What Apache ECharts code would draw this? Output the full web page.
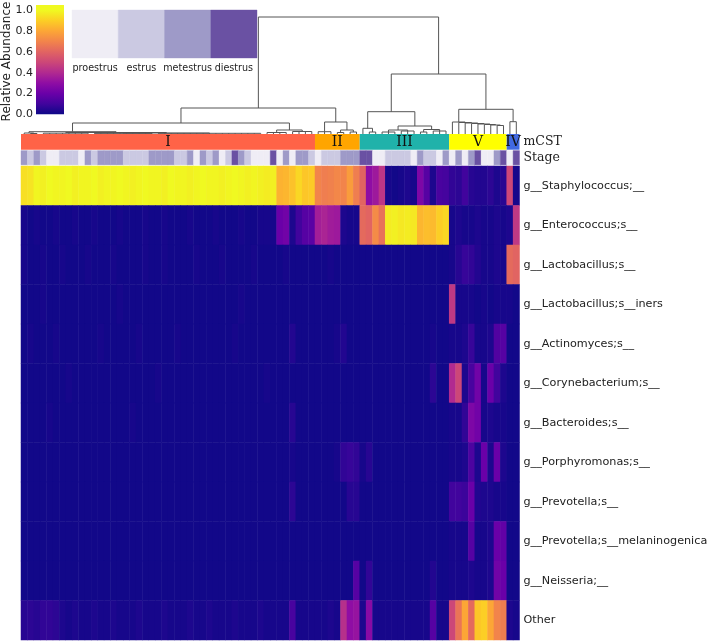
<!DOCTYPE html>
<html><head><meta charset="utf-8">
<script src="https://cdn.jsdelivr.net/npm/echarts@6/dist/echarts.min.js"></script>
<style>html,body{margin:0;padding:0;background:#fff}#c{width:709px;height:642px}</style>
</head><body><div id="c"></div>
<script>
// ---------- DATA ----------
const taxa = ['g__Staphylococcus;__','g__Enterococcus;s__','g__Lactobacillus;s__','g__Lactobacillus;s__iners','g__Actinomyces;s__','g__Corynebacterium;s__','g__Bacteroides;s__','g__Porphyromonas;s__','g__Prevotella;s__','g__Prevotella;s__melaninogenica','g__Neisseria;__','Other'];

const staphylococcus = [
0.94,0.95,0.99,0.98,1.0,0.99,0.99,1.0,0.98,0.99,
0.99,1.0,0.98,0.99,0.99,1.0,0.99,0.98,0.99,1.0,
0.99,0.99,0.98,1.0,0.99,0.99,0.98,0.99,1.0,0.99,
0.99,0.98,0.99,1.0,0.99,0.98,0.99,0.98,0.97,0.98,
0.83,0.84,0.87,0.92,0.88,0.89,0.7,0.68,0.69,0.71,
0.7,0.77,0.68,0.6,0.3,0.34,0.44,0.02,0.01,0.02,
0.03,0.02,0.25,0.15,0.03,0.12,0.11,0.07,0.06,0.1,
0.05,0.04,0.04,0.06,0.03,0.05,0.5,0.02];
const enterococcus = [
0.02,0.01,0.02,0.01,0.01,0.02,0.01,0.01,0.02,0.01,
0.01,0.02,0.01,0.01,0.01,0.02,0.01,0.01,0.01,0.02,
0.01,0.01,0.02,0.01,0.01,0.01,0.02,0.01,0.01,0.01,
0.02,0.01,0.01,0.01,0.02,0.01,0.01,0.02,0.02,0.02,
0.2,0.22,0.03,0.1,0.15,0.16,0.36,0.38,0.35,0.34,
0.03,0.02,0.02,0.62,0.6,0.72,0.64,0.97,0.98,0.96,
0.97,0.96,0.84,0.86,0.85,0.9,0.92,0.02,0.03,0.02,
0.02,0.03,0.02,0.02,0.03,0.02,0.03,0.45];
const lactobacillus = [
0.02,0.01,0.01,0.02,0.01,0.01,0.02,0.01,0.01,0.01,
0.02,0.01,0.01,0.01,0.02,0.01,0.01,0.01,0.01,0.02,
0.01,0.01,0.02,0.01,0.01,0.01,0.01,0.02,0.01,0.01,
0.01,0.02,0.01,0.01,0.01,0.01,0.02,0.01,0.01,0.01,
0.01,0.02,0.01,0.01,0.01,0.01,0.01,0.01,0.02,0.01,
0.01,0.01,0.01,0.01,0.01,0.01,0.01,0.01,0.01,0.01,
0.01,0.01,0.01,0.01,0.01,0.01,0.01,0.02,0.05,0.08,
0.07,0.04,0.02,0.02,0.03,0.02,0.62,0.6];
const lactobacillusIners = [
0.01,0.01,0.01,0.02,0.01,0.01,0.01,0.01,0.01,0.01,
0.01,0.01,0.01,0.01,0.01,0.02,0.01,0.01,0.01,0.01,
0.01,0.01,0.01,0.01,0.01,0.01,0.01,0.01,0.01,0.01,
0.01,0.01,0.01,0.01,0.02,0.01,0.01,0.01,0.01,0.01,
0.01,0.01,0.01,0.01,0.01,0.01,0.01,0.01,0.01,0.01,
0.01,0.01,0.01,0.01,0.01,0.01,0.01,0.01,0.01,0.01,
0.01,0.01,0.01,0.01,0.01,0.01,0.01,0.45,0.02,0.02,
0.02,0.01,0.02,0.01,0.02,0.02,0.02,0.01];
const actinomyces = [
0.01,0.02,0.01,0.01,0.01,0.02,0.01,0.01,0.01,0.01,
0.01,0.01,0.02,0.01,0.01,0.01,0.01,0.01,0.02,0.01,
0.01,0.01,0.01,0.01,0.02,0.01,0.01,0.01,0.01,0.01,
0.01,0.01,0.01,0.02,0.01,0.01,0.01,0.01,0.01,0.01,
0.01,0.01,0.04,0.01,0.01,0.01,0.01,0.01,0.01,0.02,
0.04,0.01,0.01,0.01,0.01,0.01,0.01,0.01,0.01,0.01,
0.01,0.01,0.01,0.01,0.02,0.01,0.01,0.02,0.02,0.03,
0.08,0.02,0.02,0.03,0.14,0.15,0.01,0.01];
const corynebacterium = [
0.01,0.01,0.01,0.01,0.01,0.01,0.01,0.02,0.01,0.01,
0.01,0.01,0.01,0.01,0.01,0.01,0.01,0.01,0.01,0.01,
0.01,0.02,0.01,0.01,0.01,0.01,0.01,0.01,0.01,0.01,
0.01,0.01,0.01,0.01,0.01,0.01,0.01,0.01,0.02,0.01,
0.01,0.01,0.01,0.01,0.01,0.01,0.01,0.01,0.01,0.01,
0.01,0.01,0.01,0.01,0.01,0.01,0.01,0.01,0.01,0.01,
0.01,0.01,0.01,0.01,0.06,0.01,0.01,0.4,0.5,0.03,
0.12,0.22,0.02,0.2,0.1,0.03,0.01,0.01];
const bacteroides = [
0.01,0.01,0.01,0.01,0.02,0.01,0.01,0.01,0.01,0.01,
0.01,0.01,0.01,0.01,0.01,0.01,0.01,0.02,0.01,0.01,
0.01,0.01,0.01,0.01,0.01,0.01,0.01,0.01,0.01,0.01,
0.01,0.01,0.01,0.01,0.01,0.01,0.01,0.01,0.01,0.01,
0.01,0.01,0.05,0.01,0.01,0.01,0.01,0.01,0.01,0.01,
0.01,0.01,0.01,0.01,0.01,0.01,0.01,0.01,0.01,0.01,
0.01,0.01,0.01,0.01,0.01,0.01,0.01,0.02,0.02,0.07,
0.25,0.22,0.02,0.03,0.02,0.02,0.01,0.01];
const porphyromonas = [
0.01,0.01,0.01,0.01,0.01,0.01,0.01,0.01,0.01,0.01,
0.01,0.01,0.01,0.01,0.01,0.01,0.01,0.01,0.01,0.01,
0.01,0.01,0.01,0.01,0.01,0.01,0.01,0.01,0.01,0.01,
0.01,0.01,0.01,0.01,0.01,0.01,0.01,0.01,0.01,0.01,
0.01,0.01,0.02,0.01,0.01,0.01,0.01,0.01,0.01,0.02,
0.07,0.08,0.07,0.02,0.05,0.01,0.01,0.01,0.01,0.01,
0.01,0.01,0.01,0.01,0.01,0.01,0.01,0.02,0.02,0.03,
0.13,0.03,0.2,0.03,0.2,0.03,0.01,0.01];
const prevotella = [
0.01,0.01,0.01,0.01,0.01,0.01,0.01,0.01,0.01,0.01,
0.01,0.01,0.01,0.01,0.01,0.01,0.01,0.01,0.01,0.01,
0.01,0.01,0.01,0.01,0.01,0.01,0.01,0.01,0.01,0.01,
0.01,0.01,0.01,0.01,0.01,0.01,0.01,0.01,0.01,0.01,
0.01,0.01,0.06,0.01,0.01,0.01,0.01,0.01,0.01,0.01,
0.01,0.05,0.05,0.01,0.01,0.01,0.01,0.01,0.01,0.01,
0.01,0.01,0.01,0.01,0.01,0.01,0.01,0.1,0.1,0.09,
0.2,0.04,0.03,0.03,0.02,0.02,0.01,0.01];
const prevotellaMelaninogenica = [
0.01,0.01,0.01,0.01,0.01,0.01,0.01,0.01,0.01,0.01,
0.01,0.01,0.01,0.01,0.01,0.01,0.01,0.01,0.01,0.01,
0.01,0.01,0.01,0.01,0.01,0.01,0.01,0.01,0.01,0.01,
0.01,0.01,0.01,0.01,0.01,0.01,0.01,0.01,0.01,0.01,
0.01,0.01,0.01,0.01,0.01,0.01,0.01,0.01,0.01,0.01,
0.01,0.01,0.01,0.01,0.01,0.01,0.01,0.01,0.01,0.01,
0.01,0.01,0.01,0.01,0.01,0.01,0.01,0.02,0.02,0.02,
0.15,0.02,0.02,0.03,0.2,0.18,0.01,0.01];
const neisseria = [
0.01,0.01,0.01,0.01,0.01,0.01,0.01,0.01,0.01,0.01,
0.01,0.01,0.01,0.01,0.01,0.01,0.01,0.01,0.01,0.01,
0.01,0.01,0.01,0.01,0.01,0.01,0.01,0.01,0.01,0.01,
0.01,0.01,0.01,0.01,0.01,0.01,0.01,0.01,0.01,0.01,
0.01,0.01,0.01,0.01,0.01,0.01,0.01,0.01,0.01,0.01,
0.01,0.01,0.15,0.01,0.07,0.01,0.01,0.01,0.01,0.01,
0.01,0.01,0.01,0.01,0.04,0.01,0.01,0.02,0.02,0.02,
0.03,0.02,0.02,0.03,0.22,0.2,0.01,0.01];
const other = [
0.05,0.06,0.05,0.07,0.07,0.06,0.03,0.02,0.03,0.02,
0.02,0.03,0.02,0.02,0.03,0.02,0.02,0.02,0.03,0.02,
0.02,0.02,0.03,0.02,0.02,0.02,0.03,0.02,0.02,0.03,
0.02,0.02,0.02,0.03,0.02,0.02,0.02,0.03,0.02,0.02,
0.02,0.02,0.12,0.02,0.02,0.02,0.02,0.02,0.03,0.02,
0.42,0.3,0.32,0.03,0.28,0.02,0.02,0.02,0.02,0.02,
0.02,0.02,0.02,0.02,0.15,0.02,0.02,0.5,0.65,0.8,
0.62,0.88,0.9,0.8,0.7,0.68,0.03,0.02];

const abundanceRows = [staphylococcus, enterococcus, lactobacillus, lactobacillusIners, actinomyces, corynebacterium, bacteroides, porphyromonas, prevotella, prevotellaMelaninogenica, neisseria, other];

// mCST groups (in column order) and number of samples in each
const mcstGroups = ['I','II','III','V','IV'];
const mcstSizes  = [46, 7, 14, 9, 2];
const mcstColors = ['#ff6347','#ffa500','#20b2aa','#ffff00','#4169e1'];

// oestrous stage of each sample (0 proestrus, 1 estrus, 2 metestrus, 3 diestrus)
const stageNames  = ['proestrus','estrus','metestrus','diestrus'];
const stageColors = ['#efedf5','#cbc9e2','#9e9ac8','#6a51a3'];
const sampleStage = [
2,1,2,1,0,0,1,1,1,0, 2,1,2,2,2,2,1,1,1,1, 2,2,2,2,1,1,2,0,2,1,
2,0,1,3,2,1,0,0,0,3, 0,2,0,2,2,1,0,1,1,1, 2,2,2,3,3,0,0,1,1,1,
1,0,2,1,1,0,2,0,2,0, 2,3,0,0,2,3,0,3];

// column dendrogram: [mergeHeight, child, child, ...], leaves = sample index
const dendroTree =
[117,
  [26,
    [11,
      [2.3,
        [1.0, 0, [0.5, 1, 2]],
        [1.5,
          [0.8, 3,4,5,6,7,8,9,10],
          [1.0, [0.6, 11,12,13,14,15,16,17,18,19,20], [0.7, 21,22,23,24,25,26,27,28,29,30,31,32,33,34,35,36,37]]
        ]
      ],
      [4, [1.5, 38,39,40,41], [2.5, 42,43,44,45]]
    ],
    [12, [2.3, 46,47,48], [4, [1.5, 49,50], [2, 51,52]]]
  ],
  [60,
    [22.3,
      [5.7, 53, [2, 54, 55]],
      [8, [4, [2, 56,57,58], [3, 59,60,61]], [4.5, [2, 62,63], [3, 64,65,66]]]
    ],
    [24.7,
      [12, 67, [11.5, 68, [11, 69, [10.5, 70, [10, 71, [9.5, 72, [9, 73, [8.5, 74, 75]]]]]]]],
      [12.3, 76, 77]
    ]
  ]
];

const colorbarTitle = 'Relative Abundance';
const colorbarTicks = [0, 0.2, 0.4, 0.6, 0.8, 1.0];
const colorbarTop = 1.05;
const PLASMA = ['#0d0887','#41049d','#6a00a8','#8f0da4','#b12a90','#cc4778','#e16462','#f2844b','#fca636','#fcce25','#f0f921'];

// ---------- BUILD ----------
const N = sampleStage.length;
const samples = sampleStage.map((_, i) => 'S' + (i + 1));

const heatData = [];
abundanceRows.forEach((row, r) => row.forEach((v, c) => heatData.push([c, r, v])));

const groupSpans = [];
let acc = 0;
mcstSizes.forEach((n, g) => { groupSpans.push([acc, acc + n, g]); acc += n; });

const dendroSegments = [];
function layoutNode(node) {
  if (typeof node === 'number') return { x: node + 0.5, h: 0 };
  const h = node[0];
  const kids = node.slice(1).map(layoutNode);
  kids.forEach(k => dendroSegments.push([k.x, k.h, k.x, h]));
  dendroSegments.push([kids[0].x, h, kids[kids.length - 1].x, h]);
  return { x: kids.reduce((s, k) => s + k.x, 0) / kids.length, h };
}
layoutNode(dendroTree);
const rootH = dendroTree[0];

const FONT = 'DejaVu Sans';
const SERIF = 'DejaVu Serif';
const HM_LEFT = 21, HM_W = 498.5;

const hideAxis = { show: false };
function valX(gi) { return { type: 'value', gridIndex: gi, min: 0, max: N, show: false }; }

const chart = echarts.init(document.getElementById('c'), null, { renderer: 'canvas' });

const gradStops = PLASMA.map((c, k) => ({ offset: (colorbarTop - k / 10) / colorbarTop, color: c }));
gradStops.push({ offset: 0, color: PLASMA[PLASMA.length - 1] });
gradStops.sort((a, b) => a.offset - b.offset);

chart.setOption({
  animation: false,
  textStyle: { fontFamily: FONT },
  graphic: [{
    type: 'text', x: 7, y: 61.5, rotation: Math.PI / 2, silent: true,
    style: { text: colorbarTitle, font: '12px "' + FONT + '"', fill: '#222',
             align: 'center', verticalAlign: 'middle', textAlign: 'center', textVerticalAlign: 'middle' }
  }],
  grid: [
    { left: HM_LEFT, top: 17, width: HM_W, height: 117, outerBoundsMode: 'none' },      // 0 dendrogram
    { left: HM_LEFT, top: 134, width: HM_W, height: 15.7, outerBoundsMode: 'none' },    // 1 mCST
    { left: HM_LEFT, top: 150.6, width: HM_W, height: 14.3, outerBoundsMode: 'none' },  // 2 stage
    { left: HM_LEFT, top: 166, width: HM_W, height: 474, outerBoundsMode: 'none' },     // 3 heatmap
    { left: 36, top: 5, width: 28, height: 109.3, outerBoundsMode: 'none' },            // 4 colorbar
    { left: 72, top: 10, width: 185, height: 48, outerBoundsMode: 'none' }              // 5 stage legend
  ],
  xAxis: [
    valX(0), valX(1), valX(2),
    { type: 'category', gridIndex: 3, data: samples, show: false },
    { type: 'value', gridIndex: 4, min: 0, max: 1, show: false },
    { type: 'category', gridIndex: 5, data: stageNames, axisLine: hideAxis, axisTick: hideAxis,
      axisLabel: { fontSize: 9.6, color: '#222', margin: 5, fontFamily: FONT, interval: 0 } }
  ],
  yAxis: [
    { type: 'value', gridIndex: 0, min: 0, max: rootH, show: false },
    { type: 'category', gridIndex: 1, data: ['mCST'], position: 'right', axisLine: hideAxis, axisTick: hideAxis,
      axisLabel: { fontFamily: SERIF, fontSize: 12.5, color: '#222', margin: 4 } },
    { type: 'category', gridIndex: 2, data: ['Stage'], position: 'right', axisLine: hideAxis, axisTick: hideAxis,
      axisLabel: { fontFamily: SERIF, fontSize: 12.5, color: '#222', margin: 4 } },
    { type: 'category', gridIndex: 3, data: taxa, inverse: true, position: 'right', axisLine: hideAxis, axisTick: hideAxis,
      axisLabel: { fontSize: 11.2, color: '#222', margin: 4, fontFamily: FONT, interval: 0 } },
    { type: 'value', gridIndex: 4, min: 0, max: colorbarTop, interval: 0.2, splitLine: hideAxis, axisLine: hideAxis,
      axisTick: hideAxis,
      axisLabel: { fontSize: 11, color: '#222', margin: 3, fontFamily: FONT,
        formatter: v => (colorbarTicks.some(t => Math.abs(t - v) < 1e-6) ? v.toFixed(1) : '') } },
    { type: 'value', gridIndex: 5, min: 0, max: 1, show: false }
  ],
  visualMap: {
    type: 'continuous', show: false, min: 0, max: 1, dimension: 2, seriesIndex: 4,
    inRange: { color: PLASMA }
  },
  series: [
    { // 0 dendrogram
      type: 'custom', xAxisIndex: 0, yAxisIndex: 0, data: dendroSegments, silent: true,
      renderItem: (p, api) => {
        const a = api.coord([api.value(0), api.value(1)]);
        const b = api.coord([api.value(2), api.value(3)]);
        return { type: 'line', shape: { x1: a[0], y1: a[1], x2: b[0], y2: b[1] },
                 style: { stroke: '#555', lineWidth: 1 } };
      }
    },
    { // 1 mCST colour bar, one block per group
      type: 'custom', xAxisIndex: 1, yAxisIndex: 1, silent: true,
      data: groupSpans,
      renderItem: (p, api) => {
        const yC = api.coord([0, 'mCST'])[1];
        const h = api.size([0, 1])[1];
        const x0 = api.coord([api.value(0), 0])[0], x1 = api.coord([api.value(1), 0])[0];
        const col = mcstColors[api.value(2)];
        return { type: 'rect', shape: { x: x0, y: yC - h / 2, width: x1 - x0, height: h },
                 style: { fill: col } };
      }
    },
    { // 2 mCST group labels
      type: 'custom', xAxisIndex: 1, yAxisIndex: 1, silent: true, z: 5,
      data: groupSpans,
      renderItem: (p, api) => {
        const cx = api.coord([(api.value(0) + api.value(1)) / 2, 0])[0];
        const cy = api.coord([0, 'mCST'])[1];
        return { type: 'text', x: cx, y: cy + 0.5,
                 style: { text: mcstGroups[api.value(2)], fill: '#111', font: '14px "' + SERIF + '"',
                          textAlign: 'center', textVerticalAlign: 'middle', align: 'center', verticalAlign: 'middle' } };
      }
    },
    { // 3 stage colour bar
      type: 'custom', xAxisIndex: 2, yAxisIndex: 2, silent: true,
      data: sampleStage.map((s, i) => [i, s]),
      renderItem: (p, api) => {
        const i = api.value(0);
        const yC = api.coord([0, 'Stage'])[1];
        const h = api.size([0, 1])[1];
        const x0 = api.coord([i, 0])[0], x1 = api.coord([i + 1, 0])[0];
        const col = stageColors[api.value(1)];
        return { type: 'rect', shape: { x: x0, y: yC - h / 2, width: x1 - x0, height: h },
                 style: { fill: col, stroke: col, lineWidth: 0.4 } };
      }
    },
    { // 4 heatmap
      type: 'heatmap', xAxisIndex: 3, yAxisIndex: 3, data: heatData, silent: true,
      emphasis: { disabled: true }
    },
    { // 5 colour bar
      type: 'custom', xAxisIndex: 4, yAxisIndex: 4, silent: true, data: [[0]],
      renderItem: (p, api) => {
        const a = api.coord([0, colorbarTop]);
        const b = api.coord([1, 0]);
        return { type: 'rect', shape: { x: a[0], y: a[1], width: b[0] - a[0], height: b[1] - a[1] },
                 style: { fill: new echarts.graphic.LinearGradient(0, 0, 0, 1, gradStops) } };
      }
    },
    { // 6 stage legend
      type: 'custom', xAxisIndex: 5, yAxisIndex: 5, silent: true,
      data: stageNames.map((s, i) => [i]),
      renderItem: (p, api) => {
        const c = api.coord([api.value(0), 0.5]);
        const s = api.size([1, 1]);
        const col = stageColors[api.value(0)];
        return { type: 'rect', shape: { x: c[0] - s[0] / 2, y: c[1] - s[1] / 2, width: s[0], height: s[1] },
                 style: { fill: col, stroke: col, lineWidth: 0.4 } };
      }
    }
  ]
});
</script>
</body></html>
